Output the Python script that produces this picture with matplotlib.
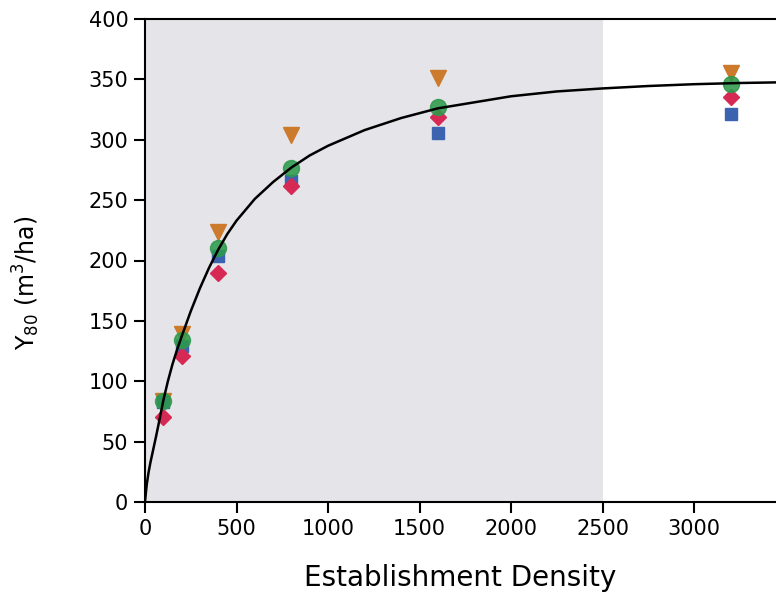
import matplotlib
matplotlib.use("Agg")
import matplotlib.pyplot as plt

# Data
densities = [100, 200, 400, 800, 1600, 3200]
y_triangle = [84, 139, 224, 304, 351, 355]   # orange down-triangles
y_square = [83, 129, 204, 266, 306, 321]     # blue squares
y_diamond = [70, 121, 190, 262, 319, 335]    # red diamonds
y_circle = [84, 134, 210, 277, 327, 346]     # green circles

# fitted curve
curve_x = [0, 5, 10, 20, 30, 40, 50, 60, 75, 100, 125, 150, 175, 200, 250,
           300, 350, 400, 450, 500, 600, 700, 800, 900, 1000, 1200, 1400,
           1600, 1800, 2000, 2250, 2500, 2750, 3000, 3250, 3450]
curve_y = [0, 8, 15, 25, 33, 40, 47, 54, 65, 84, 100, 114, 126, 137, 158,
           177, 194, 209, 222, 233, 251, 265, 277, 287, 295, 308, 318,
           326, 331, 336, 340, 342.5, 344.5, 346, 347, 347.5]

shade_end = 2500
x_ticks = [0, 500, 1000, 1500, 2000, 2500, 3000]
y_ticks = [0, 50, 100, 150, 200, 250, 300, 350, 400]

plt.rcParams['font.family'] = ['DejaVu Sans']

fig = plt.figure(figsize=(7.76, 5.99), dpi=100)
ax = fig.add_axes([145/776, 1 - 502/599, 1 - 145/776, (502 - 19)/599])

ax.axvspan(0, shade_end, color='#E4E4E9', zorder=0, lw=0)

ax.plot(densities, y_triangle, linestyle='none', marker='v', markersize=11,
        color='#CC7A2C', zorder=3)
ax.plot(densities, y_square, linestyle='none', marker='s', markersize=8,
        color='#3B63B0', zorder=3)
ax.plot(densities, y_diamond, linestyle='none', marker='D', markersize=8,
        color='#D62A54', zorder=4)
ax.plot(densities, y_circle, linestyle='none', marker='o', markersize=11.5,
        color='#2E9A4C', alpha=0.88, zorder=5)

ax.plot(curve_x, curve_y, color='black', lw=1.8, zorder=6,
        solid_joinstyle='round')

ax.set_xlim(0, 3448)
ax.set_ylim(0, 400)
ax.set_xticks(x_ticks)
ax.set_yticks(y_ticks)
ax.tick_params(direction='out', length=8, width=1.5, labelsize=15, pad=4)
for s in ['left', 'bottom', 'top']:
    ax.spines[s].set_linewidth(1.5)
ax.spines['right'].set_visible(False)

ax.set_xlabel('Establishment Density', fontsize=20, labelpad=18)
ax.set_ylabel(r'Y$_{\mathregular{80}}$ (m$^{\mathregular{3}}$/ha)', fontsize=17)
ax.yaxis.set_label_coords(-0.164, 0.453)

fig.savefig('out.png', dpi=100)
